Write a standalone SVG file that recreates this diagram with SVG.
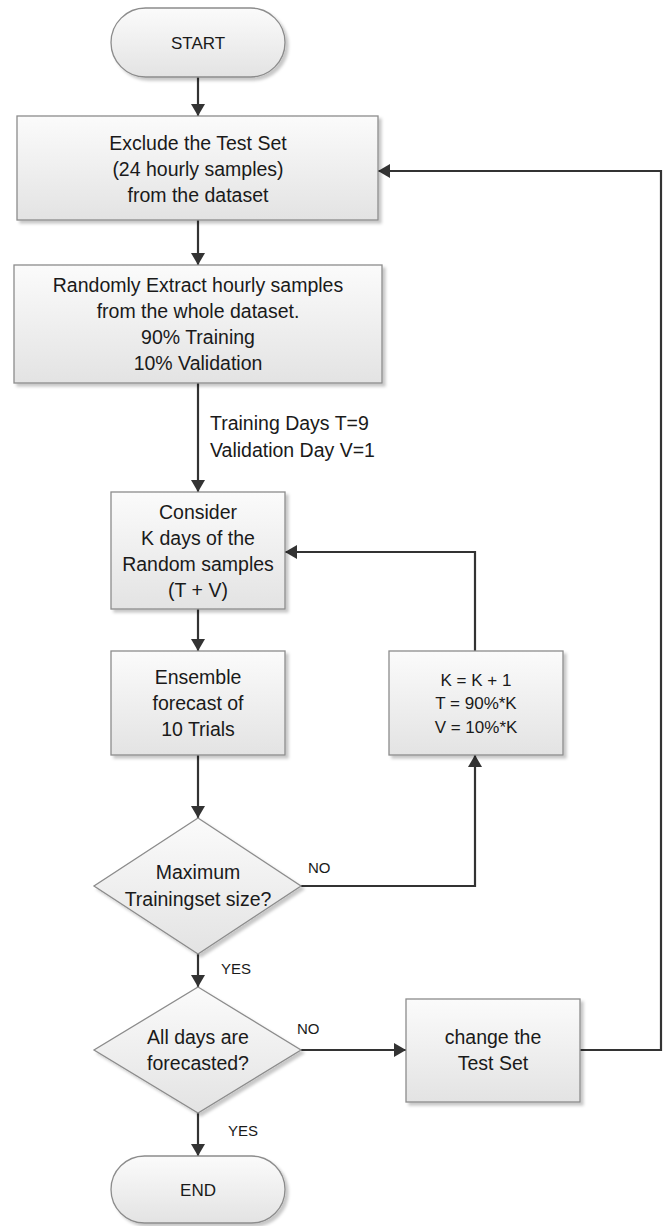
<svg xmlns="http://www.w3.org/2000/svg" width="665" height="1226" viewBox="0 0 665 1226">
<defs>
<linearGradient id="g" x1="0" y1="0" x2="0" y2="1">
<stop offset="0" stop-color="#fbfbfb"/>
<stop offset="1" stop-color="#e3e3e3"/>
</linearGradient>
<filter id="sh" x="-10%" y="-10%" width="130%" height="130%">
<feDropShadow dx="3" dy="3" stdDeviation="1.5" flood-color="#000" flood-opacity="0.22"/>
</filter>
<marker id="ah" viewBox="0 0 12 14" refX="12" refY="7" markerWidth="12" markerHeight="14" markerUnits="userSpaceOnUse" orient="auto">
<path d="M0,0 L12,7 L0,14 Z" fill="#333"/>
</marker>
</defs>
<style>
.n{fill:url(#g);stroke:#8c8c8c;stroke-width:1.3;filter:url(#sh)}
.t{font-family:"Liberation Sans",Arial,sans-serif;font-size:19.5px;fill:#1a1a1a;text-anchor:middle}
.s{font-size:17px}
.l{font-family:"Liberation Sans",Arial,sans-serif;font-size:19.5px;fill:#1a1a1a}
.y{font-family:"Liberation Sans",Arial,sans-serif;font-size:15px;fill:#1a1a1a}
.c{fill:none;stroke:#333;stroke-width:2.2}
</style>
<rect width="665" height="1226" fill="#fff"/>
<g id="connectors">
<path class="c" d="M198,77 V116" marker-end="url(#ah)"/>
<path class="c" d="M198,220 V265" marker-end="url(#ah)"/>
<path class="c" d="M198,383 V492" marker-end="url(#ah)"/>
<path class="c" d="M198,609 V651" marker-end="url(#ah)"/>
<path class="c" d="M198,755 V818" marker-end="url(#ah)"/>
<path class="c" d="M198,954 V987" marker-end="url(#ah)"/>
<path class="c" d="M198,1113 V1156" marker-end="url(#ah)"/>
<path class="c" d="M475,651 V552 H285" marker-end="url(#ah)"/>
<path class="c" d="M301,886 H475 V755" marker-end="url(#ah)"/>
<path class="c" d="M301,1050 H406" marker-end="url(#ah)"/>
<path class="c" d="M580,1050 H661 V171 H378" marker-end="url(#ah)"/>
<text class="l" x="210" y="430">Training Days T=9</text>
<text class="l" x="210" y="457">Validation Day V=1</text>
<text class="y" x="308" y="873">NO</text>
<text class="y" x="221" y="974">YES</text>
<text class="y" x="297" y="1034">NO</text>
<text class="y" x="228" y="1136">YES</text>
</g>
<g id="start">
<rect class="n" x="111" y="8" width="174" height="69" rx="34.5"/>
<text class="t s" x="198" y="49">START</text>
</g>
<g id="exclude">
<rect class="n" x="17" y="116" width="361" height="104"/>
<text class="t" x="198" y="150">Exclude the Test Set</text>
<text class="t" x="198" y="176">(24 hourly samples)</text>
<text class="t" x="198" y="202">from the dataset</text>
</g>
<g id="extract">
<rect class="n" x="14" y="265" width="368" height="118"/>
<text class="t" x="198" y="292">Randomly Extract hourly samples</text>
<text class="t" x="198" y="318">from the whole dataset.</text>
<text class="t" x="198" y="344">90% Training</text>
<text class="t" x="198" y="370">10% Validation</text>
</g>
<g id="consider">
<rect class="n" x="111" y="492" width="174" height="117"/>
<text class="t" x="198" y="519">Consider</text>
<text class="t" x="198" y="545">K days of the</text>
<text class="t" x="198" y="571">Random samples</text>
<text class="t" x="198" y="597">(T + V)</text>
</g>
<g id="ensemble">
<rect class="n" x="111" y="651" width="174" height="104"/>
<text class="t" x="198" y="684">Ensemble</text>
<text class="t" x="198" y="710">forecast of</text>
<text class="t" x="198" y="736">10 Trials</text>
</g>
<g id="update">
<rect class="n" x="389" y="651" width="174" height="104"/>
<text class="t s" x="476" y="686">K = K + 1</text>
<text class="t s" x="476" y="709">T = 90%*K</text>
<text class="t s" x="476" y="733">V = 10%*K</text>
</g>
<g id="decision1">
<polygon class="n" points="198,818 301,886 198,954 94,886"/>
<text class="t" x="198" y="879">Maximum</text>
<text class="t" x="198" y="906">Trainingset size?</text>
</g>
<g id="decision2">
<polygon class="n" points="198,987 301,1050 198,1113 94,1050"/>
<text class="t" x="198" y="1044">All days are</text>
<text class="t" x="198" y="1070">forecasted?</text>
</g>
<g id="change">
<rect class="n" x="406" y="999" width="174" height="103"/>
<text class="t" x="493" y="1044">change the</text>
<text class="t" x="493" y="1070">Test Set</text>
</g>
<g id="end">
<rect class="n" x="111" y="1156" width="174" height="67" rx="33.5"/>
<text class="t s" x="198" y="1196">END</text>
</g>
</svg>
